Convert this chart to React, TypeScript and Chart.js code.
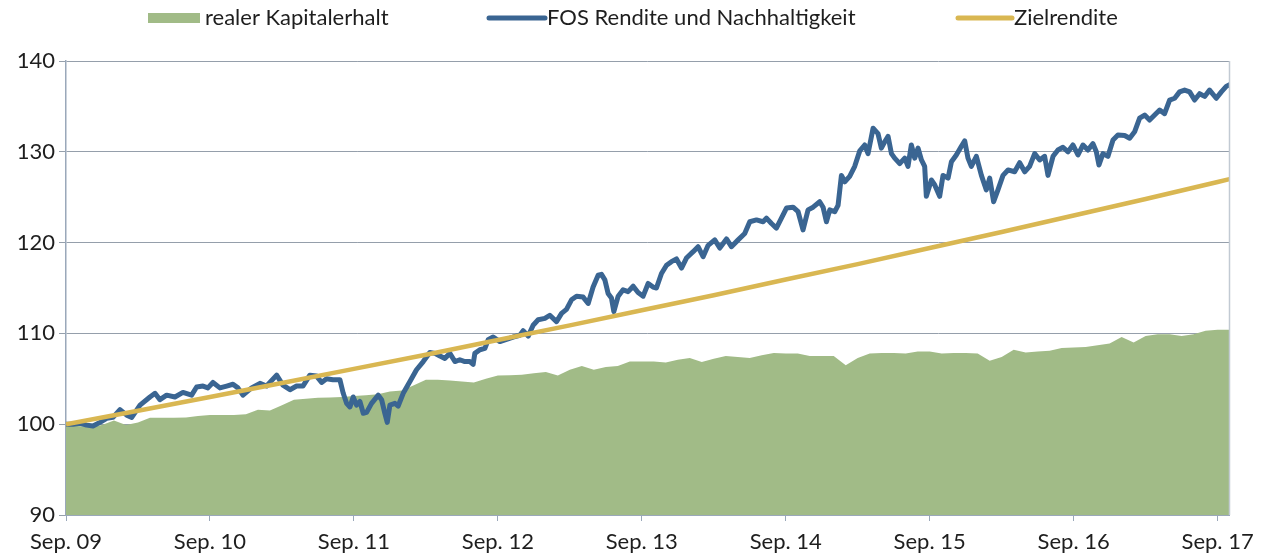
import React, { useEffect, useRef } from 'react';
import { Chart, registerables } from 'chart.js';

Chart.register(...registerables);

// x unit = months since Sep. 09
const tickLabels = ['Sep. 09', 'Sep. 10', 'Sep. 11', 'Sep. 12', 'Sep. 13', 'Sep. 14', 'Sep. 15', 'Sep. 16', 'Sep. 17'];
const legendLabels = ['realer Kapitalerhalt', 'FOS Rendite und Nachhaltigkeit', 'Zielrendite'];

// realer Kapitalerhalt, monthly
const kapitalValues = [
  99.9, 99.8, 99.7, 99.9, 100.4, 99.9, 100.2, 100.7, 100.7, 100.7,
  100.75, 100.9, 101.0, 101.0, 101.0, 101.1, 101.6, 101.5, 102.1, 102.7,
  102.8, 102.9, 102.95, 103.0, 103.1, 103.2, 103.3, 103.6, 103.7, 104.3,
  104.9, 104.9, 104.8, 104.7, 104.6, 105.0, 105.35, 105.4, 105.45, 105.6,
  105.75, 105.35, 106.0, 106.4, 106.0, 106.3, 106.4, 106.9, 106.9, 106.9,
  106.8, 107.1, 107.3, 106.85, 107.2, 107.5, 107.4, 107.3, 107.6, 107.85,
  107.8, 107.8, 107.5, 107.5, 107.5, 106.5, 107.3, 107.8, 107.85, 107.85,
  107.8, 108.0, 108.0, 107.8, 107.85, 107.85, 107.8, 107.0, 107.4, 108.2,
  107.9, 108.0, 108.1, 108.4, 108.45, 108.5, 108.7, 108.9, 109.6, 109.0,
  109.7, 109.9, 109.9, 109.7, 109.9, 110.3, 110.4, 110.4,
];

// FOS Rendite und Nachhaltigkeit
const fosMonths = [
  0, 0.58, 1.17, 1.72, 2.25, 2.83, 3.39, 3.92, 4.5, 5.06,
  5.48, 6.17, 7.0, 7.42, 7.83, 8.39, 9.08, 9.75, 10.47, 10.89,
  11.42, 11.83, 12.25, 12.83, 13.39, 13.92, 14.33, 14.75, 15.47, 16.17,
  16.72, 17.56, 18.08, 18.67, 19.22, 19.75, 20.33, 20.89, 21.31, 21.72,
  22.25, 22.83, 23.11, 23.39, 23.67, 23.94, 24.22, 24.5, 24.78, 25.06,
  25.47, 26.03, 26.31, 26.58, 26.78, 27.0, 27.42, 27.69, 28.11, 28.67,
  29.22, 29.78, 30.33, 30.75, 31.17, 31.58, 32.0, 32.42, 32.83, 33.25,
  33.67, 33.94, 34.08, 34.5, 34.92, 35.19, 35.61, 36.17, 36.72, 37.28,
  37.83, 38.11, 38.53, 38.94, 39.36, 39.92, 40.33, 40.89, 41.31, 41.72,
  42.14, 42.56, 43.11, 43.53, 43.94, 44.36, 44.64, 44.92, 45.19, 45.47,
  45.67, 46.03, 46.44, 46.86, 47.28, 47.69, 48.11, 48.53, 48.94, 49.22,
  49.64, 50.06, 50.47, 50.89, 51.31, 51.72, 52.28, 52.69, 53.11, 53.53,
  54.08, 54.5, 55.06, 55.47, 56.03, 56.58, 57.0, 57.56, 58.11, 58.39,
  58.81, 59.22, 59.64, 60.06, 60.61, 61.03, 61.44, 61.86, 62.28, 62.83,
  63.11, 63.39, 63.67, 64.08, 64.36, 64.64, 64.92, 65.33, 65.75, 66.17,
  66.58, 66.86, 67.28, 67.69, 67.97, 68.25, 68.53, 68.81, 69.08, 69.5,
  69.92, 70.19, 70.47, 70.75, 71.03, 71.31, 71.58, 71.72, 72.14, 72.42,
  72.83, 73.11, 73.53, 73.81, 74.22, 74.64, 74.92, 75.19, 75.47, 75.89,
  76.31, 76.72, 77.0, 77.33, 77.69, 78.11, 78.53, 79.08, 79.5, 79.92,
  80.33, 80.75, 81.17, 81.58, 81.86, 82.28, 82.69, 83.11, 83.53, 83.94,
  84.36, 84.78, 85.19, 85.61, 85.89, 86.11, 86.44, 86.86, 87.28, 87.69,
  88.25, 88.67, 89.08, 89.5, 89.92, 90.33, 90.75, 91.17, 91.58, 92.0,
  92.42, 92.83, 93.25, 93.67, 94.08, 94.5, 94.92, 95.33, 95.89, 96.31,
  96.72, 97.0,
];
const fosValues = [
  100.0, 100.0, 100.1, 99.9, 99.8, 100.2, 100.65, 100.75, 101.6, 101.0,
  100.75, 102.1, 103.0, 103.4, 102.7, 103.2, 103.0, 103.5, 103.2, 104.1,
  104.2, 104.0, 104.6, 104.0, 104.2, 104.4, 104.0, 103.2, 104.0, 104.5,
  104.2, 105.4, 104.3, 103.8, 104.2, 104.2, 105.4, 105.3, 104.6, 105.0,
  104.9, 104.9, 103.4, 102.3, 101.9, 103.0, 102.1, 102.5, 101.2, 101.3,
  102.3, 103.2, 102.7, 101.2, 100.2, 102.1, 102.3, 102.0, 103.4, 104.7,
  106.0, 106.9, 107.9, 107.8, 107.5, 107.25, 107.8, 106.9, 107.1, 106.9,
  106.9, 106.6, 107.8, 108.2, 108.35, 109.3, 109.6, 109.1, 109.35, 109.6,
  109.8, 110.3, 109.7, 110.9, 111.5, 111.65, 112.0, 111.3, 112.2, 112.65,
  113.7, 114.1, 114.0, 113.3, 115.1, 116.4, 116.5, 115.9, 114.4, 113.9,
  112.4, 114.1, 114.8, 114.6, 115.2, 114.5, 114.1, 115.5, 115.1, 115.0,
  116.6, 117.5, 117.9, 118.2, 117.2, 118.3, 119.0, 119.55, 118.45, 119.7,
  120.3, 119.4, 120.4, 119.55, 120.3, 121.0, 122.3, 122.5, 122.3, 122.7,
  122.1, 121.6, 122.7, 123.8, 123.9, 123.4, 121.4, 123.6, 123.9, 124.5,
  123.9, 122.3, 123.6, 123.4, 124.1, 127.4, 126.7, 127.3, 128.4, 130.1,
  130.75, 129.8, 132.6, 132.0, 130.4, 131.1, 131.7, 129.8, 129.3, 128.7,
  129.3, 128.4, 130.75, 129.3, 130.4, 129.1, 128.4, 125.1, 126.9, 126.35,
  125.1, 127.4, 127.1, 128.9, 129.65, 130.6, 131.2, 129.3, 128.4, 129.5,
  127.4, 125.8, 127.1, 124.5, 125.8, 127.4, 128.0, 127.8, 128.8, 127.8,
  128.4, 129.8, 129.1, 129.5, 127.4, 129.5, 130.2, 130.5, 130.0, 130.75,
  129.65, 130.75, 130.2, 130.9, 130.0, 128.55, 129.8, 129.5, 131.3, 131.85,
  131.8, 131.5, 132.2, 133.7, 134.05, 133.5, 134.05, 134.6, 134.2, 135.7,
  135.9, 136.6, 136.8, 136.6, 135.7, 136.4, 136.1, 136.8, 135.9, 136.6,
  137.2, 137.4,
];

// Zielrendite
const zielMonths = [0, 6, 12, 18, 24, 30, 36, 42, 48, 54, 60, 66, 72, 78, 84, 90, 96, 97];
const zielValues = [
  100.0, 101.49, 103.0, 104.53, 106.09, 107.65, 109.27, 110.88, 112.55,
  114.21, 115.93, 117.63, 119.41, 121.16, 122.99, 124.8, 126.68, 126.99,
];

const GREEN = '#a1bb87';
const BLUE = '#3a6592';
const GOLD = '#d9b752';
const GRID = '#959fab';
const AXIS = '#9aa8ba';
const TEXT = '#1e1e1e';
const FONT = { family: 'Lato', size: 22 };

export default function App() {
  const ref = useRef<HTMLCanvasElement>(null);

  useEffect(() => {
    if (!ref.current) return;
    document.body.style.margin = '0';
    document.body.style.overflow = 'hidden';
    const kapital = kapitalValues.map((v, i) => ({ x: i, y: v }));
    const fos = fosMonths.map((m, i) => ({ x: m, y: fosValues[i] }));
    const ziel = zielMonths.map((m, i) => ({ x: m, y: zielValues[i] }));

    const extras = {
      id: 'extras',
      afterDraw(chart: any) {
        const { ctx, chartArea } = chart;
        ctx.save();
        // right border
        ctx.strokeStyle = '#c2cad3';
        ctx.lineWidth = 1.5;
        ctx.beginPath();
        ctx.moveTo(chartArea.right + 0.5, chartArea.top);
        ctx.lineTo(chartArea.right + 0.5, chartArea.bottom);
        ctx.stroke();
        // legend
        const cy = 18;
        ctx.font = `${FONT.size}px ${FONT.family}`;
        ctx.textBaseline = 'middle';
        ctx.textAlign = 'left';
        ctx.fillStyle = GREEN;
        ctx.fillRect(148, cy - 5, 52, 10);
        ctx.fillStyle = TEXT;
        ctx.fillText(legendLabels[0], 205, cy);
        ctx.strokeStyle = BLUE;
        ctx.lineWidth = 5;
        ctx.lineCap = 'round';
        ctx.beginPath();
        ctx.moveTo(489, cy);
        ctx.lineTo(545, cy);
        ctx.stroke();
        ctx.fillText(legendLabels[1], 547, cy);
        ctx.strokeStyle = GOLD;
        ctx.beginPath();
        ctx.moveTo(958, cy);
        ctx.lineTo(1012, cy);
        ctx.stroke();
        ctx.fillText(legendLabels[2], 1014, cy);
        ctx.restore();
      },
    };

    const chart = new Chart(ref.current, {
      type: 'line',
      data: {
        datasets: [
          {
            label: legendLabels[2],
            data: ziel,
            borderColor: GOLD,
            borderWidth: 4.5,
            pointRadius: 0,
            fill: false,
            order: 0,
          },
          {
            label: legendLabels[1],
            data: fos,
            borderColor: BLUE,
            borderWidth: 5,
            borderJoinStyle: 'round',
            borderCapStyle: 'round',
            pointRadius: 0,
            fill: false,
            order: 1,
          },
          {
            label: legendLabels[0],
            data: kapital,
            backgroundColor: GREEN,
            borderColor: GREEN,
            borderWidth: 0,
            pointRadius: 0,
            fill: 'start',
            order: 2,
          },
        ],
      } as any,
      options: {
        animation: false,
        responsive: false,
        layout: { padding: { top: 61, right: 43, left: 0, bottom: 0 } },
        plugins: { legend: { display: false }, tooltip: { enabled: false } },
        scales: {
          x: {
            type: 'linear',
            min: 0,
            max: 96.95,
            afterBuildTicks: (s: any) => {
              s.ticks = tickLabels.map((_, i) => ({ value: i * 12 }));
            },
            afterFit: (s: any) => {
              s.height = 43;
            },
            ticks: {
              autoSkip: false,
              maxRotation: 0,
              padding: 8,
              color: TEXT,
              font: FONT,
              callback: (v: any) => tickLabels[Math.round(Number(v) / 12)],
            },
            grid: { drawOnChartArea: false, drawTicks: true, tickLength: 6, color: AXIS },
            border: { color: AXIS, width: 1 },
          },
          y: {
            min: 90,
            max: 140,
            afterFit: (s: any) => {
              s.width = 66;
            },
            ticks: { stepSize: 10, padding: 4, color: TEXT, font: FONT },
            grid: { color: GRID, tickLength: 7, drawTicks: true },
            border: { color: AXIS, width: 1.5 },
          },
        },
      },
      plugins: [extras],
    } as any);
    return () => chart.destroy();
  }, []);

  return <canvas ref={ref} width={1272} height={558} style={{ display: 'block' }} />;
}
